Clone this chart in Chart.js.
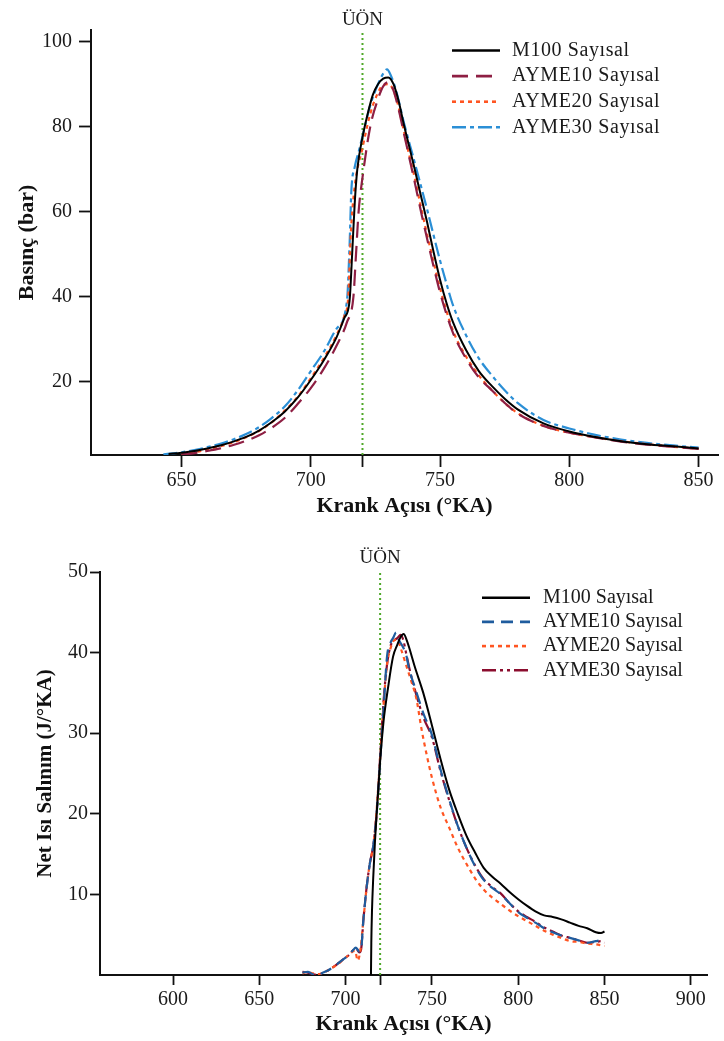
<!DOCTYPE html>
<html>
<head>
<meta charset="utf-8">
<script src="https://cdn.jsdelivr.net/npm/chart.js@4.4.1/dist/chart.umd.min.js"></script>
<style>
  html, body { margin: 0; padding: 0; background: #fff; }
  #page { position: relative; width: 724px; height: 1041px; }
  canvas { position: absolute; left: 0; }
  #pressure-chart { top: 0; }
  #heat-chart { top: 520px; }
</style>
</head>
<body>
<div id="page">
  <canvas id="pressure-chart" width="724" height="520"></canvas>
  <canvas id="heat-chart" width="724" height="521"></canvas>
</div>
<script>
// --- data ---
const seriesNames = ['M100 Sayısal', 'AYME10 Sayısal', 'AYME20 Sayısal', 'AYME30 Sayısal'];
const tdcAngle = 720;
const tdcText = 'ÜÖN';

// Cylinder pressure (bar) vs crank angle
const pressM100Angle = [645, 650, 655, 660, 665, 670, 675, 680, 685, 690, 695, 700, 705, 710, 713, 715, 716, 717, 718, 720, 722, 724, 726, 728, 730, 732, 734, 736, 738, 740, 742.5, 745, 747.5, 750, 752.5, 755, 760, 765, 770, 775, 780, 790, 800, 810, 820, 830, 840, 850];
const pressM100 = [3.0, 3.3, 3.7, 4.3, 5.0, 5.9, 7.0, 8.5, 10.5, 13.0, 16.3, 20.4, 25.0, 30.5, 35, 39, 50, 62, 70, 77.5, 83, 87.5, 90, 91.3, 91.6, 90, 86, 80.5, 75.5, 70.5, 64, 57.5, 50.5, 44, 38.5, 34, 27.5, 22.5, 19, 16, 13.5, 10.2, 8.3, 7.0, 6.0, 5.3, 4.8, 4.3];

const pressAyme10Angle = [650, 655, 660, 665, 670, 675, 680, 685, 690, 695, 700, 705, 710, 714, 716.5, 717.5, 718.5, 720, 723, 726, 728, 730, 732, 734, 736, 738, 740, 743, 746, 750, 755, 760, 765, 770, 775, 780, 790, 800, 810, 820, 830, 840, 850];
const pressAyme10 = [2.9, 3.2, 3.7, 4.3, 5.1, 6.1, 7.4, 9.2, 11.5, 14.8, 18.5, 23, 28.5, 34, 40, 50, 60, 68, 80, 86.5, 89.5, 90.5, 88.5, 84, 78.5, 73, 67.5, 59, 51, 41, 31.5, 25.5, 21, 18, 15, 12.5, 9.6, 8.0, 6.9, 5.9, 5.2, 4.7, 4.2];

const pressAyme20Angle = [650, 655, 660, 665, 670, 675, 680, 685, 690, 695, 700, 705, 710, 713, 714.5, 715.5, 717, 720, 723, 726, 728, 730, 732, 734, 736, 738, 740, 743, 746, 750, 755, 760, 765, 770, 775, 780, 790, 800, 810, 820, 830, 840, 850];
const pressAyme20 = [3.0, 3.4, 4.0, 4.8, 5.7, 6.9, 8.4, 10.5, 13.2, 16.5, 20.8, 25.5, 31, 35.5, 40, 55, 66, 75, 83, 88, 89.8, 90, 88.5, 84.5, 79, 73.5, 68.5, 60, 52, 42, 32, 26, 21.5, 18, 15, 12.6, 9.6, 8.0, 6.9, 6.0, 5.3, 4.7, 4.2];

const pressAyme30Angle = [643, 650, 655, 660, 665, 670, 675, 680, 685, 690, 695, 700, 705, 710, 714, 715, 715.7, 717, 718.7, 720.5, 723, 726, 728, 729.5, 731, 733, 736, 740, 745, 750, 753, 755, 760, 765, 770, 775, 780, 790, 800, 810, 820, 830, 840, 850];
const pressAyme30 = [2.9, 3.4, 3.9, 4.6, 5.4, 6.4, 7.7, 9.3, 11.5, 14.2, 18, 22.5, 27, 32.5, 39, 52, 65, 70.5, 74.5, 79, 85, 90, 92.5, 93.5, 92, 88.5, 81, 72, 60.5, 48.5, 42, 38, 31, 25.5, 21.5, 18, 15, 11, 9, 7.5, 6.4, 5.6, 5.0, 4.5];

const pressTicksX = [650, 700, 720, 750, 800, 850];
const pressTicksY = [20, 40, 60, 80, 100];

// Net heat release (J/°KA) vs crank angle
const heatM100Angle = [714.7, 714.9, 715.3, 716, 717, 718, 720, 722, 724.5, 727.5, 730, 731.8, 733.6, 735.5, 737, 740, 745, 750, 755, 760, 765, 770, 775, 780, 785, 790, 795, 800, 805, 810, 815, 820, 825, 830, 835, 840, 845, 848, 850];
const heatM100 = [0, 4, 8, 12, 16.5, 20, 26.5, 31.5, 35.5, 39.5, 41, 41.9, 42.3, 41.5, 40.5, 38.3, 35, 31, 26.8, 23, 20, 17.3, 15.2, 13.3, 12.2, 11.3, 10.3, 9.4, 8.6, 7.9, 7.4, 7.2, 6.9, 6.5, 6.1, 5.8, 5.3, 5.2, 5.4];

const heatAyme10Angle = [675, 678, 681, 684, 687, 690, 693, 696, 699, 702, 704, 706, 708, 709, 710.3, 712.2, 714.1, 716, 718, 720, 722, 724, 726, 727.5, 729.3, 731, 733, 735, 737, 740, 745, 750, 755, 760, 765, 770, 775, 780, 785, 790, 795, 800, 805, 810, 815, 820, 825, 830, 835, 840, 845, 848, 850];
const heatAyme10 = [0.3, 0.4, 0.1, 0.0, 0.3, 0.6, 1.0, 1.5, 2.0, 2.5, 3.0, 3.4, 2.9, 3.2, 6.8, 10.9, 13.9, 16, 20, 26.5, 33, 39.5, 41.2, 41.8, 42.5, 41.5, 40.8, 39.8, 37.8, 35.8, 32.5, 29.8, 25.5, 21.8, 18.5, 15.8, 13.5, 11.8, 10.8, 10.0, 8.9, 7.8, 7.1, 6.5, 5.8, 5.3, 4.9, 4.6, 4.3, 4.0, 4.2, 4.3, 4.1];

const heatAyme20Angle = [675, 678, 681, 684, 687, 690, 693, 696, 699, 702, 704, 705.5, 707, 708.5, 710.3, 712.2, 714.1, 716, 718, 720, 722, 724, 726, 728, 730, 732, 735, 738, 741, 744, 747, 750, 755, 760, 765, 770, 775, 780, 785, 790, 795, 800, 805, 810, 815, 820, 825, 830, 835, 840, 845, 850];
const heatAyme20 = [0.2, 0.4, 0.2, 0.1, 0.3, 0.6, 1.0, 1.4, 2.0, 2.5, 2.9, 3.0, 1.8, 3.0, 6.8, 10.9, 13.9, 16, 20.5, 27, 33.5, 38.5, 40.5, 41.5, 41.6, 40.5, 38.5, 36.5, 34.3, 30.5, 27.3, 24.5, 20.8, 18.3, 15.8, 13.8, 12, 10.6, 9.6, 8.8, 8.0, 7.3, 6.7, 6.1, 5.5, 5.0, 4.6, 4.2, 4.1, 3.9, 3.8, 3.6];

const heatAyme30Angle = [675, 678, 681, 684, 687, 690, 693, 696, 699, 702, 704, 706, 708, 709, 710.3, 712.2, 714.1, 716, 718, 720, 722, 724, 726, 728, 730, 731.9, 733.5, 735, 737, 740, 745, 750, 755, 760, 765, 770, 775, 780, 785, 790, 795, 800, 805, 810, 815, 820, 825, 830, 835, 840, 845, 848, 850];
const heatAyme30 = [0.4, 0.3, 0.1, 0.0, 0.3, 0.6, 1.0, 1.5, 2.0, 2.5, 3.0, 3.3, 2.8, 3.2, 6.8, 10.9, 13.9, 16, 20, 27, 34, 38.5, 40.8, 41.5, 41.8, 42.2, 41.5, 40, 38, 35.5, 32, 29.5, 25.3, 21.7, 18.5, 15.8, 13.6, 11.9, 10.9, 10.1, 8.9, 7.9, 7.2, 6.6, 5.9, 5.4, 4.9, 4.6, 4.3, 4.0, 4.1, 4.2, 4.0];

const heatTicksX = [600, 650, 700, 720, 750, 800, 850, 900];
const heatTicksY = [10, 20, 30, 40, 50];

// --- helpers ---
const SERIF = '"Liberation Serif", "Times New Roman", serif';
Chart.defaults.font.family = SERIF;
Chart.defaults.color = '#1a1a1a';

function toPoints(angles, values) {
  return angles.map((a, i) => ({ x: a, y: values[i] }));
}

function curve(label, angles, values, color, dash, width) {
  return {
    label: label,
    data: toPoints(angles, values),
    borderColor: color,
    backgroundColor: color,
    borderDash: dash,
    borderWidth: width,
    pointRadius: 0,
    cubicInterpolationMode: 'monotone',
    fill: false
  };
}

function tdcLine(yMin, yMax) {
  return {
    label: tdcText,
    data: [{ x: tdcAngle, y: yMin }, { x: tdcAngle, y: yMax }],
    borderColor: '#4FA82A',
    borderDash: [2, 3],
    borderWidth: 2,
    pointRadius: 0,
    hideInLegend: true
  };
}

// legend drawn inside the plot with the dataset's own line style
const lineLegend = {
  id: 'lineLegend',
  afterDraw(chart, args, opts) {
    const ctx = chart.ctx;
    ctx.save();
    ctx.font = '20px ' + SERIF;
    ctx.textBaseline = 'middle';
    ctx.textAlign = 'left';
    ctx.fillStyle = '#1a1a1a';
    let row = 0;
    chart.data.datasets.forEach(ds => {
      if (ds.hideInLegend) return;
      const y = opts.y + row * opts.rowGap;
      ctx.strokeStyle = ds.borderColor;
      ctx.lineWidth = 2.6;
      ctx.setLineDash(ds.borderDash || []);
      ctx.beginPath();
      ctx.moveTo(opts.x, y);
      ctx.lineTo(opts.x + opts.sample, y);
      ctx.stroke();
      ctx.setLineDash([]);
      ctx.letterSpacing = opts.spacing || '0px';
      ctx.fillText(ds.label, opts.textX, y);
      row++;
    });
    ctx.restore();
  }
};

// "ÜÖN" label above the TDC line
const tdcLabel = {
  id: 'tdcLabel',
  afterDraw(chart, args, opts) {
    const ctx = chart.ctx;
    const x = chart.scales.x.getPixelForValue(tdcAngle);
    ctx.save();
    ctx.font = opts.size + 'px ' + SERIF;
    ctx.fillStyle = '#1a1a1a';
    ctx.textAlign = 'center';
    ctx.textBaseline = 'middle';
    ctx.fillText(tdcText, x, chart.chartArea.top - opts.offset);
    ctx.restore();
  }
};

function axisGrid(tickLength) {
  return {
    display: true,
    drawOnChartArea: false,
    drawTicks: true,
    tickLength: tickLength,
    tickWidth: 1.8,
    tickColor: '#111'
  };
}

function buildChart(canvasId, cfg) {
  return new Chart(document.getElementById(canvasId), {
    type: 'line',
    data: { datasets: cfg.datasets },
    options: {
      responsive: false,
      animation: false,
      devicePixelRatio: 1,
      layout: { padding: cfg.padding },
      plugins: {
        legend: { display: false },
        tooltip: { enabled: false },
        lineLegend: cfg.legend,
        tdcLabel: cfg.tdc
      },
      scales: {
        x: {
          type: 'linear',
          min: cfg.xMin,
          max: cfg.xMax,
          afterBuildTicks: s => { s.ticks = cfg.xTicks.map(v => ({ value: v })); },
          afterFit: s => { s.height = cfg.xHeight; },
          ticks: {
            autoSkip: false,
            maxRotation: 0,
            padding: cfg.xPad,
            font: { size: 20 },
            callback: v => (v === tdcAngle ? '' : v)
          },
          grid: axisGrid(cfg.xTick),
          border: { display: true, color: '#111', width: 2 },
          title: {
            display: true,
            text: 'Krank Açısı (°KA)',
            font: { size: 22, weight: 'bold' },
            color: '#111',
            padding: { top: 0, bottom: cfg.xTitlePad }
          }
        },
        y: {
          type: 'linear',
          min: cfg.yMin,
          max: cfg.yMax,
          afterBuildTicks: s => { s.ticks = cfg.yTicks.map(v => ({ value: v })); },
          afterFit: s => { s.width = cfg.yWidth; },
          ticks: { autoSkip: false, padding: cfg.yPad, font: { size: 20 } },
          grid: axisGrid(cfg.yTick),
          border: { display: true, color: '#111', width: 2 },
          title: {
            display: true,
            text: cfg.yTitle,
            font: { size: cfg.yTitleSize, weight: 'bold' },
            color: '#111',
            padding: { top: cfg.yTitlePad, bottom: 0 }
          }
        }
      }
    },
    plugins: [lineLegend, tdcLabel]
  });
}

// --- pressure chart ---
const pressYMin = 2.75, pressYMax = 102.75;
buildChart('pressure-chart', {
  datasets: [
    curve(seriesNames[0], pressM100Angle, pressM100, '#000000', [], 2),
    curve(seriesNames[1], pressAyme10Angle, pressAyme10, '#8E1F43', [16, 8], 2.2),
    curve(seriesNames[2], pressAyme20Angle, pressAyme20, '#FF5522', [4, 4], 2.2),
    curve(seriesNames[3], pressAyme30Angle, pressAyme30, '#2B8FD6', [14, 4, 4, 4], 2.2),
    tdcLine(pressYMin, pressYMax)
  ],
  padding: { left: 0, top: 30, right: 6, bottom: 0 },
  xMin: 615, xMax: 857.5, xTicks: pressTicksX, xHeight: 65, xPad: 2, xTick: 12, xTitlePad: 0,
  yMin: pressYMin, yMax: pressYMax, yTicks: pressTicksY, yWidth: 91, yPad: 7, yTick: 12,
  yTitle: 'Basınç (bar)', yTitleSize: 22, yTitlePad: 14,
  legend: { x: 452, sample: 48, textX: 512, y: 50.5, rowGap: 25.6, spacing: '0.6px' },
  tdc: { offset: 10, size: 19 }
});

// --- heat release chart ---
const heatYMin = 0, heatYMax = 50;
buildChart('heat-chart', {
  datasets: [
    curve(seriesNames[0], heatM100Angle, heatM100, '#000000', [], 2),
    curve(seriesNames[1], heatAyme10Angle, heatAyme10, '#1F5C9E', [12, 7], 2.2),
    curve(seriesNames[2], heatAyme20Angle, heatAyme20, '#FF5522', [4, 4], 2.2),
    curve(seriesNames[3], heatAyme30Angle, heatAyme30, '#8B0D2E', [14, 4, 3, 4, 3, 4], 2.2),
    tdcLine(heatYMin, heatYMax)
  ],
  padding: { left: 0, top: 52, right: 17, bottom: 0 },
  xMin: 557.7, xMax: 909.4, xTicks: heatTicksX, xHeight: 66, xPad: 3, xTick: 10, xTitlePad: 3,
  yMin: heatYMin, yMax: heatYMax, yTicks: heatTicksY, yWidth: 100, yPad: 2, yTick: 10,
  yTitle: 'Net Isı Salınım (J/°KA)', yTitleSize: 21, yTitlePad: 33,
  legend: { x: 482, sample: 48, textX: 543, y: 77.7, rowGap: 24.2 },
  tdc: { offset: 14, size: 19 }
});
</script>
</body>
</html>
